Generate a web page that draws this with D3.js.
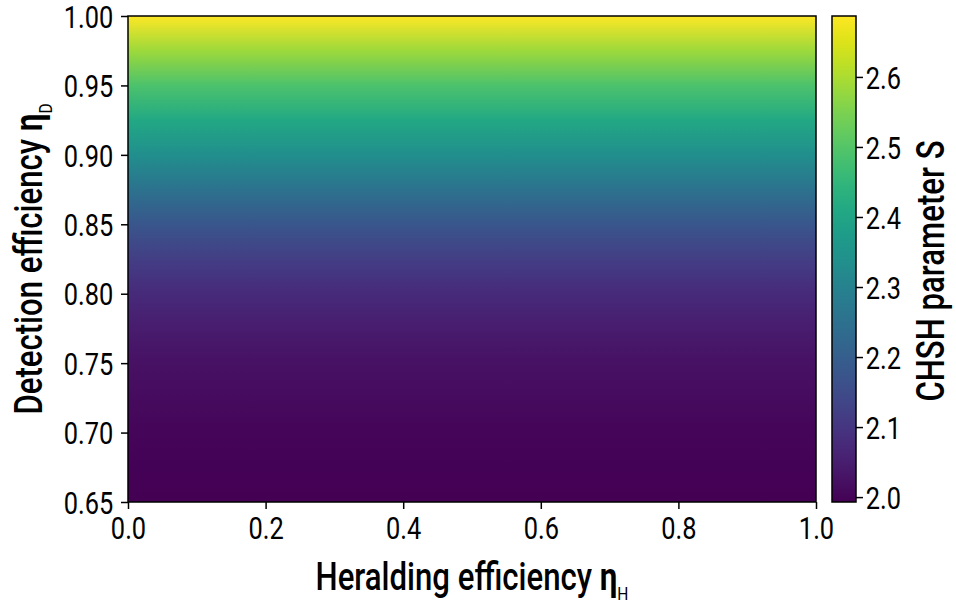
<!DOCTYPE html>
<html>
<head>
<meta charset="utf-8">
<script src="https://cdn.jsdelivr.net/npm/d3@7"></script>
<style>
  body { margin: 0; background: #fff; }
  text { font-family: Roboto, "Liberation Sans", sans-serif; fill: #000; }
</style>
</head>
<body>
<svg id="chart"></svg>
<script>
const etaD = [0.65, 0.675, 0.70, 0.725, 0.75, 0.775, 0.80, 0.825, 0.85, 0.875, 0.90, 0.925, 0.95, 0.975, 1.00];
const chshS = [1.995, 1.998, 2.003, 2.012, 2.025, 2.045, 2.075, 2.12, 2.18, 2.255, 2.335, 2.41, 2.49, 2.585, 2.685];
const xTicks = [0.0, 0.2, 0.4, 0.6, 0.8, 1.0];
const yTicks = [0.65, 0.70, 0.75, 0.80, 0.85, 0.90, 0.95, 1.00];
const cTicks = [2.0, 2.1, 2.2, 2.3, 2.4, 2.5, 2.6];
const sRange = [1.993, 2.687];

const W = 956, H = 606;
const plot = {left: 128, right: 816, top: 16, bottom: 502};
const cbar = {left: 832, right: 856};
const squeeze = 0.82; // the original font is a narrow one

const svg = d3.select("#chart").attr("width", W).attr("height", H);
const defs = svg.append("defs");

const x = d3.scaleLinear().domain([0, 1]).range([plot.left, plot.right]);
const y = d3.scaleLinear().domain([0.65, 1.0]).range([plot.bottom, plot.top]);
const cy = d3.scaleLinear().domain(sRange).range([plot.bottom, plot.top]);
const cnorm = d3.scaleLinear().domain(sRange).range([0, 1]).clamp(true);
const color = s => d3.interpolateViridis(cnorm(s));

// heatmap: value varies along eta_D
const grad = defs.append("linearGradient")
    .attr("id", "heat")
    .attr("gradientUnits", "userSpaceOnUse")
    .attr("x1", 0).attr("x2", 0)
    .attr("y1", y(0.65)).attr("y2", y(1.0));
grad.selectAll("stop")
    .data(etaD.map((d, i) => ({d: d, s: chshS[i]})))
    .enter().append("stop")
    .attr("offset", d => (y(0.65) - y(d.d)) / (y(0.65) - y(1.0)))
    .attr("stop-color", d => color(d.s));

svg.append("rect")
    .attr("x", x(0)).attr("y", y(1.0))
    .attr("width", x(1) - x(0)).attr("height", y(0.65) - y(1.0))
    .attr("fill", "url(#heat)")
    .attr("stroke", "#000").attr("stroke-width", 1.5);

const xAxis = svg.append("g")
    .attr("transform", `translate(0,${plot.bottom})`)
    .call(d3.axisBottom(x).tickValues(xTicks).tickFormat(d3.format(".1f")).tickSize(7).tickPadding(8));
const yAxis = svg.append("g")
    .attr("transform", `translate(${plot.left},0)`)
    .call(d3.axisLeft(y).tickValues(yTicks).tickFormat(d3.format(".2f")).tickSize(7).tickPadding(11));

[xAxis, yAxis].forEach(g => {
    g.select(".domain").remove();
    g.selectAll(".tick line").attr("stroke", "#000").attr("stroke-width", 1.5);
    g.selectAll(".tick text").attr("font-size", "31px").attr("fill", "#000")
        .attr("transform", `scale(${squeeze},1)`);
});
yAxis.selectAll(".tick text").attr("dy", "0.36em");

// colorbar
const cgrad = defs.append("linearGradient")
    .attr("id", "cbar")
    .attr("x1", 0).attr("x2", 0).attr("y1", 1).attr("y2", 0);
cgrad.selectAll("stop")
    .data(d3.range(0, 1.0001, 0.05))
    .enter().append("stop")
    .attr("offset", d => d)
    .attr("stop-color", d => d3.interpolateViridis(d));

svg.append("rect")
    .attr("x", cbar.left).attr("y", plot.top)
    .attr("width", cbar.right - cbar.left).attr("height", plot.bottom - plot.top)
    .attr("fill", "url(#cbar)")
    .attr("stroke", "#000").attr("stroke-width", 1.5);

const cAxis = svg.append("g")
    .attr("transform", `translate(${cbar.right},0)`)
    .call(d3.axisRight(cy).tickValues(cTicks).tickFormat(d3.format(".1f")).tickSize(7).tickPadding(5));
cAxis.select(".domain").remove();
cAxis.selectAll(".tick line").attr("stroke", "#000").attr("stroke-width", 1.5);
cAxis.selectAll(".tick text").attr("font-size", "31px").attr("fill", "#000").attr("dy", "0.36em")
    .attr("transform", `scale(${squeeze},1)`);

// axis titles
const xt = svg.append("text")
    .attr("transform", `translate(${(plot.left + plot.right) / 2},590) scale(${squeeze},1)`)
    .attr("text-anchor", "middle").attr("font-size", "38px").attr("font-weight", 500);
xt.append("tspan").text("Heralding efficiency ");
xt.append("tspan").attr("font-weight", "bold").text("η");
xt.append("tspan").attr("font-size", "19px").attr("font-weight", 400).attr("dy", "10").text("H");

const yt = svg.append("text")
    .attr("transform", `translate(42,${(plot.top + plot.bottom) / 2}) rotate(-90) scale(${squeeze},1)`)
    .attr("text-anchor", "middle").attr("font-size", "38px").attr("font-weight", 500);
yt.append("tspan").text("Detection efficiency ");
yt.append("tspan").attr("font-weight", "bold").text("η");
yt.append("tspan").attr("font-size", "19px").attr("font-weight", 400).attr("dy", "10").text("D");

svg.append("text")
    .attr("transform", `translate(944,271) rotate(-90) scale(${squeeze},1)`)
    .attr("text-anchor", "middle").attr("font-size", "38px").attr("font-weight", 500)
    .text("CHSH parameter S");
</script>
</body>
</html>
